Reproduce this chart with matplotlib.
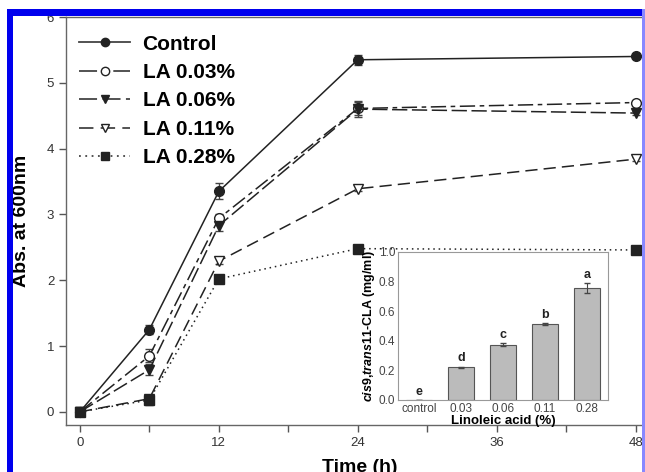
import matplotlib
matplotlib.use("Agg")
import matplotlib.pyplot as plt
from matplotlib.patches import Rectangle
from matplotlib.lines import Line2D
import numpy as np

plt.rcParams['font.family'] = ['Liberation Sans', 'DejaVu Sans']
plt.rcParams['mathtext.fontset'] = 'custom'
plt.rcParams['mathtext.it'] = 'Liberation Sans:italic:bold'
plt.rcParams['mathtext.bf'] = 'Liberation Sans:bold'

time_h = [0, 6, 12, 24, 48]
control = [0.0, 1.25, 3.35, 5.35, 5.40]
la003 = [0.0, 0.85, 2.94, 4.61, 4.70]
la006 = [0.0, 0.64, 2.83, 4.60, 4.54]
la011 = [0.0, 0.20, 2.29, 3.39, 3.84]
la028 = [0.0, 0.18, 2.02, 2.48, 2.46]
err_control = [0.0, 0.07, 0.12, 0.08, 0.03]
err_la003 = [0.0, 0.10, 0.06, 0.10, 0.03]
err_la006 = [0.0, 0.08, 0.08, 0.12, 0.03]
err_la011 = [0.0, 0.05, 0.05, 0.04, 0.03]
err_la028 = [0.0, 0.08, 0.04, 0.03, 0.03]
series_labels = ['Control', 'LA 0.03%', 'LA 0.06%', 'LA 0.11%', 'LA 0.28%']

bar_cats = ['control', '0.03', '0.06', '0.11', '0.28']
bar_vals = [0.0, 0.22, 0.375, 0.515, 0.755]
bar_errs = [0.0, 0.005, 0.008, 0.005, 0.035]
bar_letters = ['e', 'd', 'c', 'b', 'a']

fig = plt.figure(figsize=(6.45, 4.72), dpi=100)
ax = fig.add_axes([66/645, 47/472, 587/645, 408/472])

col = '#222222'
styles = [
    dict(ls='-', marker='o', mfc=col),
    dict(ls=(0, (10, 3, 3, 3)), marker='o', mfc='white'),
    dict(ls=(0, (10, 3)), marker='v', mfc=col),
    dict(ls=(0, (8, 4)), marker='v', mfc='white'),
    dict(ls=(0, (1, 2.5)), marker='s', mfc=col),
]
data = [control, la003, la006, la011, la028]
errs = [err_control, err_la003, err_la006, err_la011, err_la028]
handles = []
for y, e, st, lab in zip(data, errs, styles, series_labels):
    ax.errorbar(time_h, y, yerr=e, color=col, lw=1.1, ls=st['ls'],
                marker=st['marker'], mfc=st['mfc'], mec=col, ms=7,
                capsize=3, elinewidth=1, ecolor='#444444')
    handles.append(Line2D([], [], color='#444444', lw=1.3, ls=st['ls'],
                          marker=st['marker'], mfc=st['mfc'], mec=col, ms=6,
                          label=lab))

ax.set_xlim(-1.2, 49.5)
ax.set_ylim(-0.2, 6)
ax.set_xticks([0, 12, 24, 36, 48])
ax.set_xticks([6, 18, 30, 42], minor=True)
ax.set_yticks([0, 1, 2, 3, 4, 5, 6])
ax.tick_params(axis='both', which='both', direction='out', length=5,
               color='#555555', labelsize=9.5, labelcolor='#333333', width=1)
ax.tick_params(axis='x', pad=4)
for s in ax.spines.values():
    s.set_color('#666666')
    s.set_linewidth(1)
ax.set_xlabel('Time (h)', fontsize=14, fontweight='bold', labelpad=7)
ax.set_ylabel('Abs. at 600nm', fontsize=14, fontweight='bold', labelpad=12)

leg = ax.legend(handles=handles, loc='upper left', frameon=False,
                handlelength=2.45, prop=dict(weight='bold', size=15),
                borderaxespad=0.0, labelspacing=0.45, handletextpad=0.6,
                bbox_to_anchor=(0.008, 0.977))

# inset
ins = fig.add_axes([398/645, (472-400)/472, 210/645, 148/472])
xpos = np.arange(len(bar_cats))
ins.bar(xpos, bar_vals, width=0.62, color='#bbbbbb', edgecolor='#555555', lw=0.8,
        yerr=bar_errs, capsize=2, error_kw=dict(ecolor='#444444', elinewidth=0.8))
for xp, v, er, letter in zip(xpos, bar_vals, bar_errs, bar_letters):
    ins.text(xp, v + er + 0.015, letter, ha='center', va='bottom',
             fontsize=9, fontweight='bold', color='#222222')
ins.set_xlim(-0.5, 4.5)
ins.set_ylim(0, 1.0)
ins.set_xticks(xpos)
ins.set_xticklabels(bar_cats)
ins.set_yticks([0, 0.2, 0.4, 0.6, 0.8, 1.0])
ins.set_yticklabels(['0.0', '0.2', '0.4', '0.6', '0.8', '1.0'])
ins.tick_params(axis='both', length=0, labelsize=8.5, labelcolor='#444444', pad=2)
for s in ins.spines.values():
    s.set_color('#999999')
    s.set_linewidth(0.8)
ins.set_xlabel('Linoleic acid (%)', fontsize=9.5, fontweight='bold', labelpad=0)
ins.set_ylabel(r'$\it{cis}$9,$\it{trans}$11-CLA (mg/ml)', fontsize=9,
               fontweight='bold', labelpad=1)

# blue border
fig.add_artist(Rectangle((7/645, 0), 6/645, (472-9)/472, transform=fig.transFigure,
                         color='#0000ee', zorder=20, lw=0))
fig.add_artist(Rectangle((7/645, (472-16)/472), 1 - 7/645, 7/472, transform=fig.transFigure,
                         color='#0000ee', zorder=20, lw=0))
fig.add_artist(Rectangle((642/645, 0), 3/645, (472-9)/472, transform=fig.transFigure,
                         color='#8888ff', zorder=20, lw=0))

fig.savefig('out.png', dpi=100)
